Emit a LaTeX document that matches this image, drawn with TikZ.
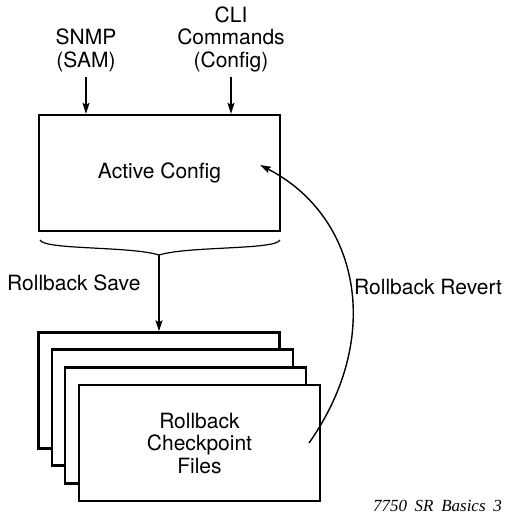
\documentclass[tikz,border=0pt]{standalone}
\usepackage{fontspec}
\setmainfont{TeX Gyre Heros}
\newfontfamily\capfont{Liberation Serif}
\usetikzlibrary{arrows.meta}
\begin{document}
\begin{tikzpicture}[x=1pt,y=-1pt,
  lbl/.style={font=\fontsize{21}{22.5}\selectfont, align=center, inner sep=0pt},
  boxst/.style={draw, line width=2.4pt, fill=white, minimum width=241pt, minimum height=116pt, inner sep=0pt},
  arr/.style={line width=1.4pt, -{Stealth[length=11pt,width=7pt,inset=2pt]}},
  thinl/.style={line width=1.2pt}]
\useasboundingbox (0,0) rectangle (505,520);
% Active config
\node[boxst, lbl] (active) at (159.5,173) {Active Config};
% inputs
\node[lbl, anchor=south] (snmp) at (86,72) {SNMP\\(SAM)};
\node[lbl, anchor=south] (cli) at (231,72) {CLI\\Commands\\(Config)};
\draw[arr] (snmp.south) ++(0,5) coordinate (s1) -- (s1 |- active.north);
\draw[arr] (cli.south) ++(0,5) coordinate (c1) -- (c1 |- active.north);
% brace
\coordinate (bl) at (40,240);
\coordinate (br) at (280,240);
\coordinate (bt) at (159,255);
\draw[thinl] (bl) .. controls (44,250) and (130,246) .. (bt) .. controls (188,246) and (276,250) .. (br);
% stack
\node[boxst] (f1) at (159,390.5) {};
\node[boxst] (f2) at (172.5,407.5) {};
\node[boxst] (f3) at (185.5,425.5) {};
\node[boxst, lbl] (f4) at (199.5,443) {Rollback\\Checkpoint\\Files};
\draw[arr] (bt) -- (bt |- f1.north);
\node[lbl, anchor=west] (save) at (7,283) {Rollback Save};
% revert
\coordinate (rs) at (309,443);
\coordinate (re) at (260,165);
\draw[arr] (rs) .. controls (385,335) and (358,215) .. (re);
\node[lbl, anchor=west] (revert) at (354,287) {Rollback Revert};
% caption
\node[anchor=east, inner sep=0pt, font=\capfont\itshape\fontsize{17}{19}\selectfont] (cap) at (502,506) {7750\hspace{0.45em}SR\hspace{0.45em}Basics\hspace{0.45em}3};
\end{tikzpicture}
\end{document}
